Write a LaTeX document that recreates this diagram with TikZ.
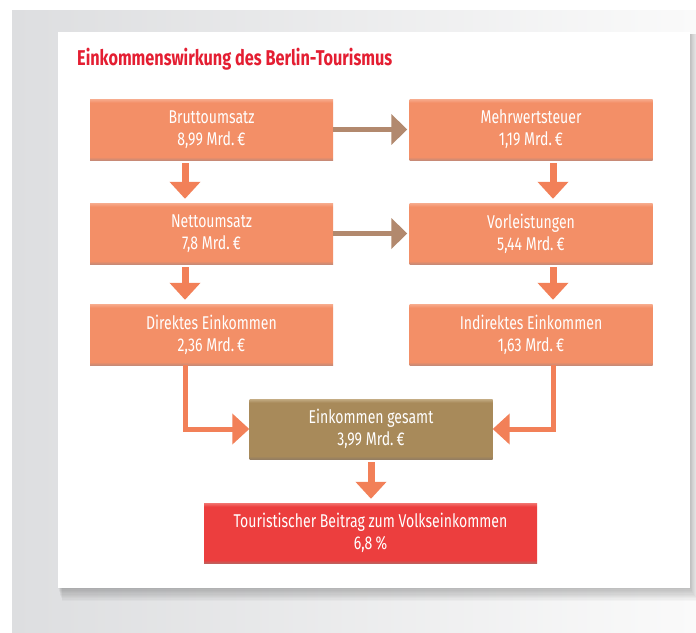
\documentclass[tikz,border=0pt]{standalone}
\usepackage{fontspec}
\setmainfont{Fira Sans}[FakeStretch=0.76]
\usetikzlibrary{arrows.meta,calc}
\definecolor{bgL}{RGB}{221,222,224}
\definecolor{bgR}{RGB}{250,250,250}
\definecolor{titleR}{RGB}{228,30,50}
\definecolor{oT}{RGB}{247,172,142}
\definecolor{oM}{RGB}{243,143,103}
\definecolor{oB}{RGB}{200,138,118}
\definecolor{gT}{RGB}{196,172,132}
\definecolor{gM}{RGB}{168,138,90}
\definecolor{gB}{RGB}{148,126,98}
\definecolor{rT}{RGB}{242,116,112}
\definecolor{rM}{RGB}{236,62,62}
\definecolor{rB}{RGB}{192,96,92}
\definecolor{arrO}{RGB}{242,128,88}
\definecolor{arrB}{RGB}{178,137,110}
\pgfdeclareverticalshading{orangeshade}{100bp}{color(0bp)=(oB); color(25bp)=(oB); color(27.5bp)=(oM); color(72bp)=(oM); color(75bp)=(oT); color(100bp)=(oT)}
\pgfdeclareverticalshading{goldshade}{100bp}{color(0bp)=(gB); color(25bp)=(gB); color(27.5bp)=(gM); color(72bp)=(gM); color(75bp)=(gT); color(100bp)=(gT)}
\pgfdeclareverticalshading{redshade}{100bp}{color(0bp)=(rB); color(25bp)=(rB); color(27.5bp)=(rM); color(72bp)=(rM); color(75bp)=(rT); color(100bp)=(rT)}
\tikzset{
  box/.style={minimum width=243pt, minimum height=61pt, inner sep=0pt, align=center,
    text=white, font=\fontsize{18.5}{22}\selectfont, shading=orangeshade},
  goldbox/.style={box, minimum height=60pt, shading=goldshade},
  redbox/.style={box, minimum width=333pt, minimum height=60pt, shading=redshade},
  varr/.style={draw=arrO, line width=7pt, -{Triangle[length=17pt,width=30pt]}},
  harr/.style={draw=arrB, line width=5pt, -{Triangle[length=16pt,width=30pt]}},
  bendarr/.style={draw=arrO, line width=5pt, line join=miter, -{Triangle[length=17pt,width=30pt]}},
}
\begin{document}
\begin{tikzpicture}[x=1pt,y=-1pt]
\useasboundingbox (0,0) rectangle (696,632);
\fill[white] (0,0) rectangle (696,632);
\shade[left color=bgL, right color=bgR] (12,10) rectangle (696,632);
\foreach \i in {1,...,10}
  \fill[black,opacity=0.022] (58+0.4*\i,34) rectangle (690+0.8*\i,588+1.3*\i);
\fill[white] (58,32) rectangle (690,588);
\node[anchor=base west, text=titleR, inner sep=0pt, font=\bfseries\fontsize{21.4}{24}\selectfont] (title) at (77,65) {Einkommenswirkung des Berlin-Tourismus};
\coordinate (L) at (185,0);
\coordinate (R) at (553,0);
\coordinate (M) at (371,0);
\node[box] (brutto) at (211.5,129.5) {Bruttoumsatz\\8,99 Mrd.\,€};
\node[box] (mwst) at (531,129.5) {Mehrwertsteuer\\1,19 Mrd.\,€};
\node[box] (netto) at (211.5,233.5) {Nettoumsatz\\7,8 Mrd.\,€};
\node[box] (vorl) at (531,233.5) {Vorleistungen\\5,44 Mrd.\,€};
\node[box] (direkt) at (211.5,334.5) {Direktes Einkommen\\2,36 Mrd.\,€};
\node[box] (indirekt) at (531,334.5) {Indirektes Einkommen\\1,63 Mrd.\,€};
\node[goldbox] (gesamt) at (371,429) {Einkommen gesamt\\3,99 Mrd.\,€};
\node[redbox] (tour) at (370.5,533) {Touristischer Beitrag zum Volkseinkommen\\6,8\,\%};
\draw[harr, shorten >=2pt] (brutto.east) -- (mwst.west);
\draw[harr, shorten >=2pt] (netto.east) -- (vorl.west);
\draw[varr, shorten <=3pt, shorten >=4pt] (brutto.south -| L) -- (netto.north -| L);
\draw[varr, shorten <=3pt, shorten >=4pt] (netto.south -| L) -- (direkt.north -| L);
\draw[varr, shorten <=3pt, shorten >=4pt] (mwst.south -| R) -- (vorl.north -| R);
\draw[varr, shorten <=3pt, shorten >=4pt] (vorl.south -| R) -- (indirekt.north -| R);
\draw[bendarr] (direkt.south -| L) |- (gesamt.west);
\draw[bendarr] (indirekt.south -| R) |- (gesamt.east);
\draw[varr, shorten <=3pt, shorten >=4pt] (gesamt.south -| M) -- (tour.north -| M);
\end{tikzpicture}
\end{document}
